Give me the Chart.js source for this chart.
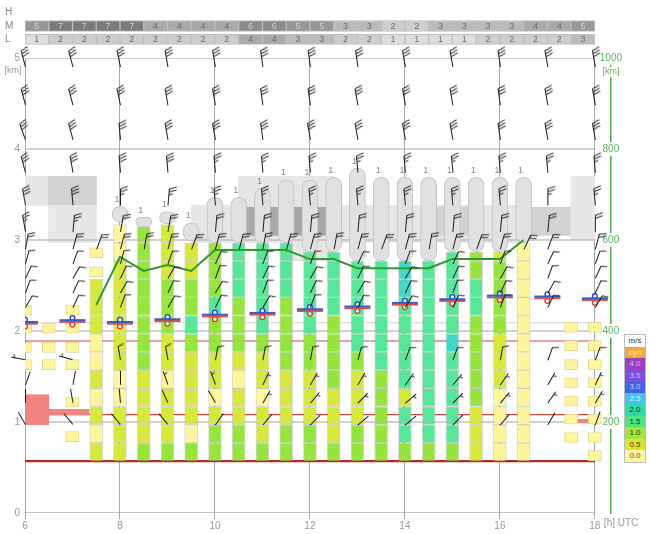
<!DOCTYPE html>
<html>
<head>
<meta charset="utf-8">
<script src="https://cdn.jsdelivr.net/npm/chart.js@4.4.0/dist/chart.umd.min.js"></script>
<style>
  html, body { margin: 0; padding: 0; background: #fff; }
  #wrap { position: relative; width: 650px; height: 534px; overflow: hidden; }
  #main, #rows { position: absolute; left: 0; top: 0; }
  #legend { position: absolute; left: 624px; top: 334px; width: 20px; border: 1px solid #bbb;
            font: 8px "Liberation Sans", Arial, sans-serif; background: #fff; }
  #legend div { height: 11.5px; line-height: 11.5px; text-align: center; }
</style>
</head>
<body>
<div id="wrap">
  <canvas id="main" width="650" height="534"></canvas>
  <canvas id="rows" width="650" height="52"></canvas>
  <div id="legend"></div>
</div>
<script>
// ---- data ----
const hourTicks = [6, 8, 10, 12, 14, 16, 18];
const kmTicks = [0, 1, 2, 3, 4, 5];
const rightTicks = [200, 400, 600, 800, 1000];

// cloud rows (half hour cells)
const rowTimes = [6, 6.5, 7, 7.5, 8, 8.5, 9, 9.5, 10, 10.5, 11, 11.5, 12, 12.5, 13, 13.5, 14, 14.5, 15, 15.5, 16, 16.5, 17, 17.5];
const midCloud = [5, 7, 7, 7, 7, 4, 4, 4, 4, 6, 6, 5, 5, 3, 3, 2, 2, 3, 3, 3, 3, 4, 4, 5];
const lowCloud = [1, 2, 2, 2, 2, 2, 2, 2, 2, 4, 4, 3, 3, 2, 2, 1, 1, 1, 1, 2, 2, 2, 2, 3];

// thermal columns, climb rate per 200 m cell (m/s), bottom to top
const thermalBase = 0.57;
const cellStep = 0.2;
const colTimes = [7.5, 8, 8.5, 9, 9.5, 10, 10.5, 11, 11.5, 12, 12.5, 13, 13.5, 14, 14.5, 15, 15.5, 16, 16.5];
const colTop = [2.57, 3.17, 3.15, 3.17, 2.97, 2.97, 2.97, 2.97, 2.97, 2.87, 2.87, 2.77, 2.77, 2.77, 2.77, 2.87, 2.87, 2.87, 2.97];
const colClimb = [
  [0.5, 0, 0.5, 0, 0.5, 0, 0, 0.5, 0.5, 0.5],
  [0.5, 0.5, 0.5, 0, 0, 0.5, 0.5, 0.5, 0.5, 0.5, 0.5, 0, 0],
  [1, 0.5, 0.5, 0.5, 0.5, 1, 1, 1, 1, 1, 1, 1, 1],
  [1, 0.5, 0.5, 0.5, 0, 0.5, 0.5, 1, 1, 1, 0.5, 0.5, 0.5],
  [1, 0, 0.5, 0.5, 0.5, 0.5, 1, 1.5, 1, 1, 0.5, 0.5],
  [1, 1, 0.5, 0, 0.5, 0.5, 1, 1, 1.5, 1, 1, 1],
  [1, 1, 0.5, 0.5, 0, 0.5, 1, 1, 1, 1.5, 1.5, 1.5],
  [1, 0.5, 0.5, 0, 0.5, 0.5, 1, 1.5, 1.5, 1.5, 1.5, 1.5],
  [1, 1, 0.5, 0.5, 0.5, 1, 1, 1, 1, 1.5, 1.5, 1.5],
  [1, 1, 0.5, 0.5, 0.5, 1, 1, 1.5, 1.5, 1.5, 1.5, 1.5],
  [1, 0.5, 0.5, 0.5, 1, 1, 1, 1, 1.5, 1.5, 1.5, 1.5],
  [1, 1, 0.5, 0.5, 0.5, 1, 1.5, 1.5, 1.5, 1.5, 1.5],
  [1, 1, 1, 1, 1, 1.5, 1.5, 1.5, 1.5, 1.5, 1.5],
  [1, 1.5, 1.5, 0.5, 1.5, 1.5, 1.5, 1.5, 1.5, 2, 2],
  [1, 1.5, 1.5, 1.5, 1.5, 1.5, 1.5, 1.5, 1.5, 1.5, 1.5],
  [1, 1.5, 1.5, 1.5, 1.5, 1.5, 2, 1.5, 1.5, 1.5, 1.5, 1.5],
  [0.5, 0.5, 0.5, 1, 1, 1, 1, 1, 1.5, 1.5, 1, 1],
  [0, 0, 0, 0, 0.5, 0.5, 0.5, 1, 1, 1, 1, 0.5],
  [0, 0, 0, 0, 0, 0, 0, 0, 0, 0, 0, 0]
];

// weak isolated thermal cells
const weakT  = [6, 6, 6, 6, 6.5, 6.5, 6.5, 7, 7, 7, 7, 7, 7, 7.5, 7.5,
                17.5, 17.5, 17.5, 17.5, 17.5, 17.5, 17.5, 18, 18, 18, 18, 18, 18, 18, 18];
const weakKm = [2.23, 2.03, 1.82, 1.63, 2.03, 1.82, 1.63, 2.23, 2.03, 1.82, 1.63, 1.22, 0.84, 2.65, 2.86,
                2.04, 1.84, 1.63, 1.43, 1.23, 1.03, 0.83, 2.04, 1.84, 1.63, 1.43, 1.23, 1.03, 0.83, 0.63];

// cumulus
const cuT = [8, 8.5, 9, 9.5, 10, 10.5, 11, 11.5, 12, 12.5, 13, 13.5, 14, 14.5, 15, 15.5, 16, 16.5];
const cuBase = [3.2, 3.15, 3.18, 2.99, 2.97, 2.97, 2.97, 2.97, 2.87, 2.87, 2.77, 2.77, 2.77, 2.77, 2.87, 2.87, 2.87, 2.97];
const cuTop = [3.37, 3.25, 3.31, 3.19, 3.47, 3.47, 3.57, 3.66, 3.66, 3.69, 3.79, 3.69, 3.69, 3.69, 3.69, 3.69, 3.69, 3.69];
const cuCover = [1, 1, 1, 1, 1, 1, 1, 1, 1, 1, 1, 1, 1, 1, 1, 1, 1, 1];

// cloud cover cells (start of half hour, bottom km, top km, density 1..3)
const covT  = [6, 6.5, 7, 6.5, 7, 9.5, 10, 10.5, 11, 11.5, 12, 12.5, 13, 13.5, 14, 14.5, 15, 15.5, 16,
               10.5, 11, 11.5, 12, 10.5, 11, 11.5, 12, 14.5, 15, 16.5, 17, 17.5, 11.5, 12];
const covLo = [3.38, 3.38, 3.38, 2.97, 2.97, 2.97, 2.97, 2.97, 2.97, 2.97, 2.97, 2.97, 2.97, 2.97, 2.97, 2.97, 2.97, 2.97, 2.97,
               3.05, 3.05, 3.05, 3.05, 3.38, 3.38, 3.38, 3.38, 3.05, 3.05, 3.05, 3.05, 3.0, 2.77, 2.77];
const covHi = [3.70, 3.70, 3.70, 3.38, 3.38, 3.38, 3.38, 3.38, 3.38, 3.38, 3.38, 3.38, 3.38, 3.38, 3.38, 3.38, 3.38, 3.38, 3.38,
               3.36, 3.36, 3.36, 3.36, 3.70, 3.70, 3.70, 3.70, 3.36, 3.36, 3.36, 3.36, 3.70, 2.97, 2.97];
const covLvl = [1, 2, 2, 1, 1, 1, 1, 1, 1, 1, 1, 1, 1, 1, 1, 1, 1, 1, 1,
                3, 3, 3, 3, 1, 1, 1, 1, 2, 2, 2, 2, 1, 1, 1];

// warm layers
const warmT0 = [6, 6.5, 17.6];
const warmT1 = [6.5, 7.35, 17.85];
const warmLo = [0.97, 1.08, 0.99];
const warmHi = [1.30, 1.14, 1.03];

// reference heights (km)
const refKm = [0.57, 1.08, 1.89, 2.09];

// green line (right axis)
const lineT = [7.5, 8, 8.5, 9, 9.5, 10, 10.5, 11, 11.5, 12, 12.5, 13, 13.5, 14, 14.5, 15, 15.5, 16, 16.5];
const lineVal = [457, 563, 532, 545, 532, 578, 578, 578, 578, 558, 558, 538, 538, 538, 538, 558, 558, 558, 600];

// blue/red markers
const mkT = [6, 7, 8, 9, 10, 11, 12, 13, 14, 15, 16, 17, 18];
const mkKm = [2.09, 2.11, 2.09, 2.12, 2.17, 2.19, 2.23, 2.26, 2.30, 2.34, 2.38, 2.37, 2.35];

// wind barbs (direction deg, speed kt)
const barbHours = [6, 7, 8, 9, 10, 11, 12, 13, 14, 15, 16, 17, 18];
const barbLevels = [4.9, 4.48, 4.1, 3.74, 3.38, 3.09, 2.74, 2.58, 2.42, 2.26, 1.68, 1.41, 1.21, 0.97];
const barbDir = [
  [345, 345, 348, 350, 350, 352, 352, 352, 350, 350, 352, 350, 350],
  [345, 345, 348, 350, 350, 352, 352, 350, 350, 350, 352, 350, 350],
  [340, 345, 355, 350, 350, 352, 350, 350, 350, 350, 352, 350, 350],
  [345, 350, 355, 355, 355, 355, 355, 355, 355, 355, 355, 355, 355],
  [350, 355, 0, 5, 355, 355, 355, 355, 355, 355, 355, 0, 355],
  [350, 5, 10, 10, 5, 5, 5, 5, 5, 5, 5, 5, 0],
  [15, 20, 15, 20, 25, 20, 20, 25, 20, 25, 20, 25, 20],
  [25, 30, 25, 30, 20, 25, 30, 25, 30, 25, 30, 20, 25],
  [20, 25, 30, 25, 30, 20, 25, 30, 25, 20, 25, 30, 25],
  [30, 25, 20, 30, 25, 30, 20, 25, 30, 25, 20, 25, 30],
  [280, 285, 350, 350, 10, 10, 10, 15, 20, 20, 10, 20, 20],
  [20, 10, 0, 340, 340, 25, 30, 30, 35, 40, 35, 30, 25],
  [0, 350, 355, 335, 330, 30, 40, 45, 50, 45, 40, 35, 30],
  [330, 320, 320, 320, 35, 40, 45, 50, 50, 45, 40, 30, 20]
];
const barbKt = [
  [30, 30, 30, 30, 30, 30, 30, 30, 30, 30, 30, 30, 30],
  [30, 30, 30, 30, 30, 30, 30, 30, 30, 30, 30, 30, 30],
  [30, 30, 30, 30, 30, 30, 30, 30, 30, 30, 30, 30, 30],
  [30, 30, 30, 30, 25, 25, 25, 25, 25, 25, 25, 25, 25],
  [30, 30, 25, 25, 25, 25, 25, 25, 25, 25, 25, 25, 25],
  [25, 25, 20, 20, 20, 20, 20, 20, 20, 20, 20, 20, 20],
  [10, 10, 10, 10, 10, 10, 10, 10, 10, 10, 10, 10, 10],
  [10, 10, 10, 10, 10, 10, 10, 10, 10, 10, 10, 10, 10],
  [10, 10, 10, 10, 10, 10, 10, 10, 10, 10, 10, 10, 10],
  [10, 10, 10, 10, 10, 10, 10, 10, 10, 10, 10, 10, 10],
  [5, 5, 10, 10, 10, 10, 10, 10, 10, 10, 10, 10, 10],
  [2, 2, 2, 5, 5, 5, 5, 5, 5, 5, 5, 5, 5],
  [2, 2, 2, 2, 2, 5, 5, 5, 5, 5, 5, 5, 5],
  [2, 2, 2, 2, 2, 2, 2, 2, 2, 2, 2, 2, 2]
];
const midBarbKm = 2.9;
const midBarbT = [6, 7, 7.5, 8, 8.5, 9, 9.5, 10, 10.5, 11, 11.5, 12, 12.5, 13, 13.5, 14, 14.5, 15, 15.5, 16, 16.5, 17, 18];
const midBarbDir = [10, 15, 20, 15, 10, 15, 20, 15, 15, 10, 15, 15, 10, 15, 20, 15, 10, 15, 20, 15, 25, 20, 15];
const midBarbKt = [20, 20, 20, 20, 20, 20, 20, 20, 20, 20, 20, 20, 20, 20, 20, 20, 20, 20, 20, 20, 20, 20, 20];

const legendRows = ['m/s', 'dyn', '4.0', '3.5', '3.0', '2.5', '2.0', '1.5', '1.0', '0.5', '0.0'];

// ---- layout / styles ----
const FONT = '"Liberation Sans", Arial, sans-serif';
const W = 650, H = 534;
const PLOT_LEFT = 25, PLOT_RIGHT = 611, PLOT_TOP = 58, PLOT_BOTTOM = 513;
const X_MIN = 6, X_MAX = 18.34;
const hourPx = (PLOT_RIGHT - PLOT_LEFT) / (X_MAX - X_MIN);
const kmPx = (PLOT_BOTTOM - PLOT_TOP) / 5;

Chart.defaults.font.family = FONT;
Chart.defaults.font.size = 10;
Chart.defaults.color = '#999';

const climbColors = {
  '0': '#fff59b', '0.5': '#d6e83c', '1': '#97e43e', '1.5': '#58e79a',
  '2': '#42d8c4', '2.5': '#45c3ee', '3': '#4361e6', '3.5': '#7e4fd6', '4': '#9b3fbf'
};
const cloudGray = { 1: '#dedede', 2: '#cdcdcd', 3: '#bbbbbb', 4: '#a9a9a9', 5: '#979797', 6: '#8a8a8a', 7: '#7b7b7b' };
const coverGray = { 1: '#e7e7e7', 2: '#d2d2d2', 3: '#a9a9a9' };

// legend
const legendStyle = {
  'm/s': ['#fff', '#333'], 'dyn': ['#f2a93b', '#fde3b4'], '4.0': ['#9b3fbf', '#dcb6ec'],
  '3.5': ['#7e4fd6', '#cdbaf2'], '3.0': ['#4361e6', '#b9c6f6'], '2.5': ['#45c3ee', '#c8eefb'],
  '2.0': ['#34d8a6', '#0f3b2c'], '1.5': ['#4fe27f', '#123a1c'], '1.0': ['#a4e43c', '#2d3d10'],
  '0.5': ['#dde23a', '#3d3d10'], '0.0': ['#fff59b', '#555']
};
const leg = document.getElementById('legend');
legendRows.forEach(r => {
  const d = document.createElement('div');
  d.textContent = r;
  d.style.background = legendStyle[r][0];
  d.style.color = legendStyle[r][1];
  leg.appendChild(d);
});

// wind barb glyphs
const barbCache = {};
function barbImage(kt, len) {
  const key = kt + '_' + len;
  if (barbCache[key]) return barbCache[key];
  const size = 2 * (len + 10);
  const c = document.createElement('canvas');
  c.width = size; c.height = size;
  const g = c.getContext('2d');
  const cx = size / 2 + 0.5, cy = size / 2;
  g.strokeStyle = '#1a1a1a';
  g.lineWidth = 1;
  g.beginPath();
  g.moveTo(cx, cy);
  g.lineTo(cx, cy - len);
  const full = Math.floor(kt / 10);
  const half = (kt % 10) >= 5;
  const fl = len * 0.45, gap = 3, a = 70 * Math.PI / 180;
  let y = cy - len + 0.5;
  for (let i = 0; i < full; i++) {
    g.moveTo(cx, y);
    g.lineTo(cx + fl * Math.sin(a), y - fl * Math.cos(a));
    y += gap;
  }
  if (half) {
    if (full === 0) y += gap;
    g.moveTo(cx, y);
    g.lineTo(cx + fl * 0.55 * Math.sin(a), y - fl * 0.55 * Math.cos(a));
  }
  g.stroke();
  barbCache[key] = c;
  return c;
}

// ---- datasets ----
const datasets = [];

// barbs
const barbPts = [], barbStyle = [], barbRot = [];
barbLevels.forEach((km, li) => {
  barbHours.forEach((t, hi) => {
    barbPts.push({ x: t, y: km });
    barbStyle.push(barbImage(barbKt[li][hi], km > 3 ? 17 : 14));
    barbRot.push(barbDir[li][hi]);
  });
});
midBarbT.forEach((t, i) => {
  barbPts.push({ x: t, y: midBarbKm });
  barbStyle.push(barbImage(midBarbKt[i], 16));
  barbRot.push(midBarbDir[i]);
});
datasets.push({
  type: 'line', showLine: false, data: barbPts, pointStyle: barbStyle, pointRotation: barbRot,
  pointRadius: 1, clip: false, order: 0
});

// markers
const off = 1 / kmPx;
datasets.push({ type: 'line', showLine: false, order: 1,
  data: mkT.map((t, i) => ({ x: t, y: mkKm[i] + 0.8 * off })),
  pointStyle: 'line', pointRadius: 13, pointBorderColor: '#3a5bd0', pointBorderWidth: 2 });
datasets.push({ type: 'line', showLine: false, order: 1,
  data: mkT.map((t, i) => ({ x: t, y: mkKm[i] - 0.9 * off })),
  pointStyle: 'line', pointRadius: 13, pointBorderColor: '#e0504a', pointBorderWidth: 2 });
datasets.push({ type: 'line', showLine: false, order: 1,
  data: mkT.map((t, i) => ({ x: t, y: mkKm[i] + 3 * off })),
  pointStyle: 'circle', pointRadius: 2.4, pointBackgroundColor: 'rgba(255,255,255,0.7)',
  pointBorderColor: '#2440c8', pointBorderWidth: 1.3 });
datasets.push({ type: 'line', showLine: false, order: 1,
  data: mkT.map((t, i) => ({ x: t, y: mkKm[i] - 3.6 * off })),
  pointStyle: 'circle', pointRadius: 2.4, pointBackgroundColor: 'rgba(255,255,255,0.7)',
  pointBorderColor: '#e03a30', pointBorderWidth: 1.3 });

// green line
datasets.push({ type: 'line', yAxisID: 'y2', order: 2,
  data: lineT.map((t, i) => ({ x: t, y: lineVal[i] })),
  borderColor: '#2f9a2f', borderWidth: 2, pointRadius: 0, tension: 0 });

// cumulus
const cuIndex = datasets.length;
datasets.push({ type: 'bar', order: 4, grouped: false, barThickness: 16,
  data: cuT.map((t, i) => ({ x: t, y: [cuBase[i], cuTop[i]] })),
  backgroundColor: '#e1e1e1', borderColor: '#c2c2c2', borderWidth: 1,
  borderRadius: 8, borderSkipped: false });

// thermal cells
const cellPts = [], cellCol = [];
colTimes.forEach((t, ci) => {
  colClimb[ci].forEach((v, k) => {
    const lo = thermalBase + k * cellStep;
    const hi = Math.min(lo + cellStep, colTop[ci]);
    cellPts.push({ x: t, y: [lo, hi] });
    cellCol.push(climbColors[String(v)]);
  });
});
datasets.push({ type: 'bar', order: 5, grouped: false, barThickness: 13,
  data: cellPts, backgroundColor: cellCol,
  borderColor: 'rgba(130,130,130,0.3)', borderWidth: 1, borderSkipped: false });

// weak cells
const boxHalf = 5 / kmPx;
datasets.push({ type: 'bar', order: 5, grouped: false, barThickness: 13,
  data: weakT.map((t, i) => ({ x: t, y: [weakKm[i] - boxHalf, weakKm[i] + boxHalf] })),
  backgroundColor: climbColors['0'], borderColor: '#e2d99a', borderWidth: 1, borderSkipped: false });

// warm layers
warmT0.forEach((t0, i) => {
  datasets.push({ type: 'bar', order: 6, grouped: false,
    barThickness: (warmT1[i] - t0) * hourPx,
    data: [{ x: (t0 + warmT1[i]) / 2, y: [warmLo[i], warmHi[i]] }],
    backgroundColor: '#f0857f', borderWidth: 0 });
});

// reference lines
const refStyle = [['#b02a22', 2.2], ['#cc4a40', 1.2], ['#cc4a40', 1.2], ['#d6d6d6', 1]];
refKm.forEach((km, i) => {
  datasets.push({ type: 'line', order: 7, data: [{ x: 6, y: km }, { x: 18, y: km }],
    borderColor: refStyle[i][0], borderWidth: refStyle[i][1], pointRadius: 0 });
});

// km grid
kmTicks.forEach(km => {
  datasets.push({ type: 'line', order: 8, data: [{ x: 6, y: km }, { x: 18, y: km }],
    borderColor: km === 0 ? '#8a8a8a' : '#a6a6a6', borderWidth: 1, pointRadius: 0 });
});

// cloud cover cells
datasets.push({ type: 'bar', order: 9, grouped: false, barThickness: 0.5 * hourPx + 0.5,
  data: covT.map((t, i) => ({ x: t + 0.25, y: [covLo[i], covHi[i]] })),
  backgroundColor: covLvl.map(l => coverGray[l]), borderWidth: 0 });

// ---- text plugin ----
const textPlugin = {
  id: 'texts',
  afterDatasetsDraw(chart) {
    const { ctx, chartArea, scales } = chart;
    ctx.save();
    ctx.textAlign = 'center';
    ctx.textBaseline = 'middle';
    ctx.font = '9px ' + FONT;
    ctx.fillStyle = '#8a8a8a';
    chart.getDatasetMeta(cuIndex).data.forEach((el, i) => {
      ctx.fillText(String(cuCover[i]), el.x - 3, Math.min(el.y, el.base) - 7);
    });
    ctx.fillStyle = '#999';
    ctx.fillText('[km]', 13, scales.y.getPixelForValue(5) + 13);
    const ky = scales.y2.getPixelForValue(1000) + 14;
    ctx.fillStyle = '#fff';
    ctx.fillRect(chartArea.right - 11, ky - 5, 22, 10);
    ctx.fillStyle = '#5cb85c';
    ctx.fillText('[km]', chartArea.right, ky);
    ctx.textAlign = 'left';
    ctx.font = '10px ' + FONT;
    ctx.fillStyle = '#999';
    ctx.fillText('[h] UTC', scales.x.getPixelForValue(18) + 9, chartArea.bottom + 10);
    ctx.restore();
  }
};

new Chart(document.getElementById('main'), {
  type: 'bar',
  data: { datasets },
  options: {
    responsive: false,
    animation: false,
    events: [],
    layout: { padding: { top: PLOT_TOP, left: 0, right: 0, bottom: 0 } },
    plugins: { legend: { display: false }, tooltip: { enabled: false } },
    scales: {
      x: {
        type: 'linear', min: X_MIN, max: X_MAX, offset: false,
        afterBuildTicks: s => { s.ticks = hourTicks.map(v => ({ value: v })); },
        afterFit: s => { s.height = H - PLOT_BOTTOM; },
        grid: { color: '#a8a8a8', tickLength: 6, offset: false },
        border: { display: false },
        ticks: { color: '#999', padding: 1, maxRotation: 0, autoSkip: false }
      },
      y: {
        type: 'linear', position: 'left', min: 0, max: 5,
        afterBuildTicks: s => { s.ticks = kmTicks.map(v => ({ value: v })); },
        afterFit: s => { s.width = PLOT_LEFT; },
        grid: { display: false, drawTicks: false },
        border: { display: false },
        ticks: { color: '#999', padding: 5 }
      },
      y2: {
        type: 'linear', position: 'right', min: 0, max: 1000,
        afterBuildTicks: s => { s.ticks = rightTicks.map(v => ({ value: v })); },
        afterFit: s => { s.width = W - PLOT_RIGHT; },
        grid: { drawOnChartArea: false, drawTicks: false },
        border: { color: '#4cae4c', width: 1.5 },
        ticks: { color: '#5cb85c', mirror: true, padding: 11, crossAlign: 'center',
                 callback: v => String(v),
                 showLabelBackdrop: true, backdropColor: '#fff', backdropPadding: 1 }
      }
    }
  },
  plugins: [textPlugin]
});

// ---- cloud rows chart ----
const cellText = {
  id: 'cellText',
  afterDatasetsDraw(chart) {
    const ctx = chart.ctx;
    ctx.save();
    ctx.font = '9px ' + FONT;
    ctx.textAlign = 'center';
    ctx.textBaseline = 'middle';
    chart.data.datasets.forEach((ds, di) => {
      chart.getDatasetMeta(di).data.forEach((el, i) => {
        const v = ds.amounts[i];
        ctx.fillStyle = v >= 5 ? '#d2d2d2' : '#6a6a6a';
        ctx.fillText(String(v), (el.x + el.base) / 2, el.y + 0.5);
      });
    });
    ctx.restore();
  }
};

new Chart(document.getElementById('rows'), {
  type: 'bar',
  data: {
    labels: ['H', 'M', 'L'],
    datasets: [
      { data: rowTimes.map(t => ({ y: 'M', x: [t, t + 0.5] })), amounts: midCloud,
        backgroundColor: midCloud.map(v => cloudGray[v]), borderColor: '#bdbdbd', borderWidth: 1,
        borderSkipped: false, barThickness: 11, grouped: false },
      { data: rowTimes.map(t => ({ y: 'L', x: [t, t + 0.5] })), amounts: lowCloud,
        backgroundColor: lowCloud.map(v => cloudGray[v]), borderColor: '#bdbdbd', borderWidth: 1,
        borderSkipped: false, barThickness: 10, grouped: false }
    ]
  },
  options: {
    indexAxis: 'y',
    responsive: false,
    animation: false,
    events: [],
    layout: { padding: { left: 5, right: W - PLOT_RIGHT, top: 2, bottom: 2 } },
    plugins: { legend: { display: false }, tooltip: { enabled: false } },
    scales: {
      x: { type: 'linear', min: X_MIN, max: X_MAX, display: false },
      y: {
        type: 'category', offset: true,
        afterFit: s => { s.width = PLOT_LEFT - 5; },
        grid: { display: false, drawTicks: false },
        border: { display: false },
        ticks: { color: '#888', crossAlign: 'far', padding: 0 }
      }
    }
  },
  plugins: [cellText]
});
</script>
</body>
</html>
